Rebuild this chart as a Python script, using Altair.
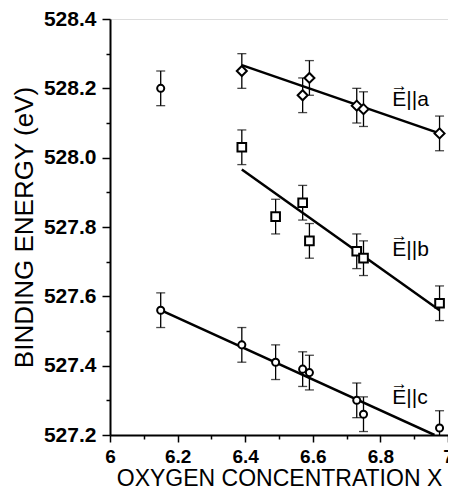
import altair as alt
import pandas as pd

# ---- data ----
a_x = [6.39, 6.57, 6.59, 6.73, 6.75, 6.975]
a_y = [528.25, 528.18, 528.23, 528.15, 528.14, 528.07]

b_x = [6.39, 6.49, 6.57, 6.59, 6.73, 6.75, 6.975]
b_y = [528.03, 527.83, 527.87, 527.76, 527.73, 527.71, 527.58]

c_x = [6.15, 6.15, 6.39, 6.49, 6.57, 6.59, 6.73, 6.75, 6.975]
c_y = [528.20, 527.56, 527.46, 527.41, 527.39, 527.38, 527.30, 527.26, 527.22]

err = 0.05

# fitted lines (end points)
fit_a_x = [6.39, 6.975]
fit_a_y = [528.267, 528.07]
fit_b_x = [6.39, 6.975]
fit_b_y = [527.966, 527.56]
fit_c_x = [6.15, 6.96]
fit_c_y = [527.56, 527.20]

labels = ["E||a", "E||b", "E||c"]
label_x = [6.835, 6.835, 6.835]
label_y = [528.166, 527.734, 527.306]

x_ticks = [6.0, 6.1, 6.2, 6.3, 6.4, 6.5, 6.6, 6.7, 6.8, 6.9, 7.0]
y_ticks = [527.2, 527.3, 527.4, 527.5, 527.6, 527.7, 527.8, 527.9,
           528.0, 528.1, 528.2, 528.3, 528.4]

# ---- tables ----
pts = pd.concat([
    pd.DataFrame({"s": "a", "x": a_x, "y": a_y}),
    pd.DataFrame({"s": "b", "x": b_x, "y": b_y}),
    pd.DataFrame({"s": "c", "x": c_x, "y": c_y}),
], ignore_index=True)
pts["lo"] = pts["y"] - err
pts["hi"] = pts["y"] + err

fits = pd.concat([
    pd.DataFrame({"s": "a", "x": fit_a_x, "y": fit_a_y}),
    pd.DataFrame({"s": "b", "x": fit_b_x, "y": fit_b_y}),
    pd.DataFrame({"s": "c", "x": fit_c_x, "y": fit_c_y}),
], ignore_index=True)

lab = pd.DataFrame({"t": labels, "x": label_x, "y": label_y})

FONT = "Liberation Sans"
major = "round(datum.value*10) % 2 == 0"

xscale = alt.Scale(domain=[6, 7], nice=False, zero=False)
yscale = alt.Scale(domain=[527.2, 528.4], nice=False, zero=False)

xaxis = alt.Axis(
    values=x_ticks,
    labelExpr=f"{major} ? format(datum.value, '~g') : ''",
    tickSize={"condition": {"test": major, "value": 7}, "value": 4},
    tickWidth=1.5, tickColor="black",
    domainColor="black", domainWidth=2,
    labelFont=FONT, labelFontWeight="bold", labelFontSize=19,
    labelColor="black", labelPadding=5, labelFlush=False,
    labelOverlap=False,
    title="OXYGEN CONCENTRATION X", titleFont=FONT, titleFontSize=23,
    titleFontWeight="normal", titleColor="black", titlePadding=1,
    grid=False,
)
yaxis = alt.Axis(
    values=y_ticks,
    labelExpr=f"{major} ? format(datum.value, '.1f') : ''",
    tickSize={"condition": {"test": major, "value": 8}, "value": 4},
    tickWidth=1.5, tickColor="black",
    domainColor="black", domainWidth=2,
    labelFont=FONT, labelFontWeight="bold", labelFontSize=21,
    labelColor="black", labelPadding=6, labelOverlap=False,
    title="BINDING ENERGY (eV)", titleFont=FONT, titleFontSize=26,
    titleFontWeight="normal", titleColor="black", titlePadding=6,
    grid=False,
)

X = alt.X("x:Q", scale=xscale, axis=xaxis)
Y = alt.Y("y:Q", scale=yscale, axis=yaxis)

base = alt.Chart(pts)

bars = base.mark_rule(color="black", strokeWidth=1.3, clip=True).encode(
    x=X, y=alt.Y("lo:Q", scale=yscale, axis=yaxis), y2="hi:Q")
cap_lo = base.mark_point(shape="stroke", size=81, color="black",
                         strokeWidth=1.3, clip=True).encode(
    x=X, y=alt.Y("lo:Q", scale=yscale, axis=yaxis))
cap_hi = base.mark_point(shape="stroke", size=81, color="black",
                         strokeWidth=1.3, clip=True).encode(
    x=X, y=alt.Y("hi:Q", scale=yscale, axis=yaxis))

lines = alt.Chart(fits).mark_line(color="black", strokeWidth=2.5,
                                  clip=True).encode(
    x=X, y=Y, detail="s:N")

markers = base.mark_point(filled=False, fill="white", fillOpacity=1,
                          stroke="black", strokeWidth=2, opacity=1).encode(
    x=X, y=Y,
    shape=alt.Shape("s:N", scale=alt.Scale(domain=["a", "b", "c"],
                    range=["diamond", "square", "circle"]), legend=None),
    size=alt.Size("s:N", scale=alt.Scale(domain=["a", "b", "c"],
                  range=[100, 50, 55]), legend=None),
)

texts = alt.Chart(lab).mark_text(align="left", baseline="middle",
                                 font=FONT, fontSize=21,
                                 color="black").encode(
    x=X, y=Y, text="t:N")

arrows = alt.Chart(lab).mark_text(align="center", baseline="middle",
                                  font=FONT, fontSize=17, fontWeight="bold",
                                  dx=7, dy=-14, color="black").encode(
    x=X, y=Y, text=alt.value("\u2192"))

chart = alt.layer(bars, cap_lo, cap_hi, lines, markers, texts,
                  arrows).properties(
    width=338, height=416,
    autosize=alt.AutoSizeParams(type="none"),
    padding={"left": 102, "top": 11, "right": 0, "bottom": 57},
).configure_view(stroke="black", strokeWidth=2).configure(background="white")

chart.save("out.html", embed_options={"renderer": "svg", "actions": False})
